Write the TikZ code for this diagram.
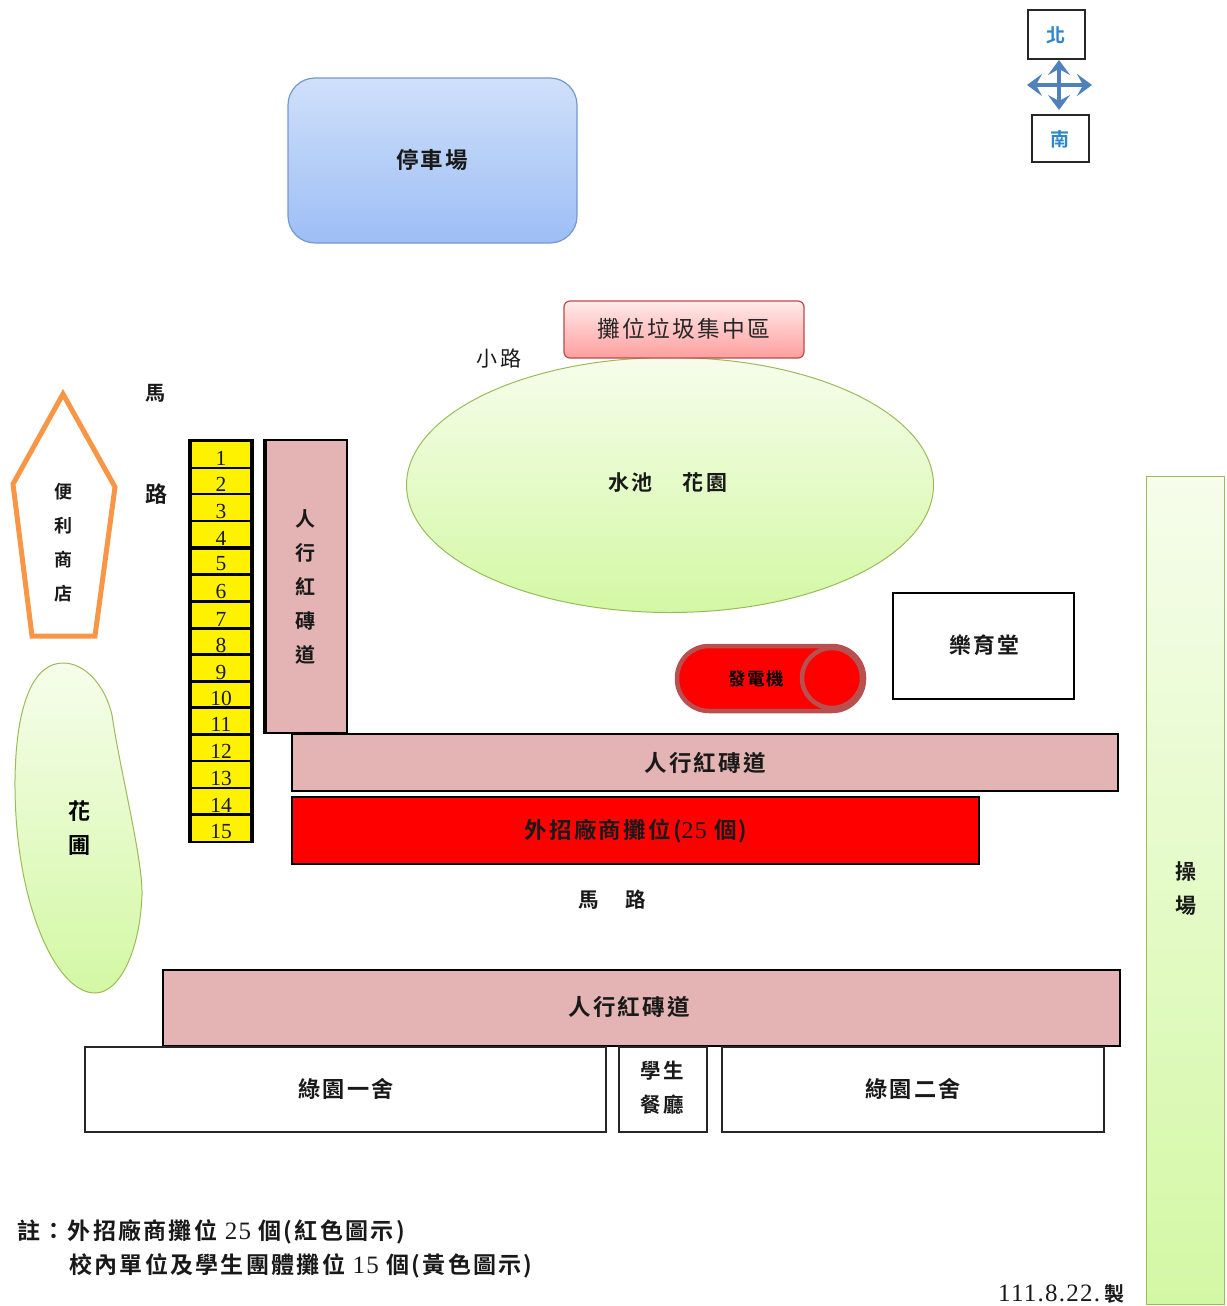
\documentclass[tikz,border=0pt]{standalone}
\usepackage{fontspec}
\setmainfont{Liberation Serif}
\newfontfamily\cjk{Noto Sans CJK TC}[BoldFont={Noto Sans CJK TC Bold},LetterSpace=10]
\newfontfamily\numf{Liberation Serif}[LetterSpace=5]
\usetikzlibrary{shapes.geometric,arrows.meta}
\definecolor{pinkbrick}{HTML}{E4B4B4}
\definecolor{greentop}{HTML}{F6FDEB}
\definecolor{greenbot}{HTML}{D3F8A4}
\definecolor{greenline}{HTML}{9BBB59}
\definecolor{bluetop}{HTML}{CFE0FA}
\definecolor{bluebot}{HTML}{9DBEF5}
\definecolor{blueline}{HTML}{7398D2}
\definecolor{compass}{HTML}{4F81BD}
\definecolor{compasstxt}{HTML}{2E86CF}
\definecolor{store}{HTML}{F79646}
\definecolor{genline}{HTML}{B85050}
\newcommand{\hfont}[1]{\cjk\bfseries\fontsize{#1pt}{24pt}\selectfont}
\newcommand{\vfont}[1]{\cjk\bfseries\fontsize{#1pt}{34pt}\selectfont}
\newcommand{\dgt}[2]{{\numf\mdseries\fontsize{#1pt}{24pt}\selectfont #2}}
\tikzset{
  lab/.style={font=\vfont{19},align=center,inner sep=0pt,text=black!90},
  note/.style={lab,font=\hfont{23},anchor=west},
  num/.style={font=\fontsize{21.5pt}{22pt}\selectfont,inner sep=0pt,text=black!90},
  brick/.style={fill=pinkbrick,draw=black,line width=2pt},
  build/.style={fill=white,draw=black!85,line width=1.8pt},
  bed/.style={top color=greentop,bottom color=greenbot,draw=greenline,line width=1pt},
  compassarrow/.style={compass,line width=3.6pt,{Stealth[length=15pt,width=22pt,inset=6pt]}-{Stealth[length=15pt,width=22pt,inset=6pt]}},
}
\begin{document}
\begin{tikzpicture}[x=1pt,y=-1pt]
\useasboundingbox (0,0) rectangle (1226,1306);
% compass
\coordinate (cn) at (1059,60); \coordinate (cs) at (1059,110);
\coordinate (cw) at (1027,85); \coordinate (ce) at (1092,85);
\draw[compassarrow] (cn) -- (cs);
\draw[compassarrow] (cw) -- (ce);
\draw[draw=black!85,line width=1.8pt,fill=white] (1028,10) rectangle (1085,59);
\node[lab,text=compasstxt] (north) at (1056,35) {北};
\draw[draw=black!85,line width=1.8pt,fill=white] (1032,115) rectangle (1089,162);
\node[lab,text=compasstxt] (south) at (1060,139) {南};
% parking
\draw[top color=bluetop,bottom color=bluebot,draw=blueline,line width=1.2pt,rounded corners=27pt] (288,78) rectangle (577,243);
\node[lab,font=\hfont{22.5}] (park) at (432,160) {停車場};
% garden ellipse
\node[ellipse,bed,minimum width=527pt,minimum height=255pt,inner sep=0pt] (pond) at (670,485) {};
\node[lab,font=\hfont{21}] (pondt) at (668,483) {水池\hspace{30pt}花園};
% garbage
\draw[top color=red!8,bottom color=red!38,draw=red!60!black!70,line width=1.2pt,rounded corners=6pt] (564,301) rectangle (804,358);
\node[font=\cjk\fontsize{22.7pt}{24pt}\selectfont,inner sep=0pt,text=black!85] (trash) at (684,329) {攤位垃圾集中區};
\node[lab,font=\cjk\fontsize{21pt}{24pt}\selectfont] (path) at (499,359) {小路};
% road left
\node[lab,font=\hfont{20}] (ma) at (155,393) {馬};
\node[lab,font=\hfont{22}] (lu) at (156,494) {路};
% store
\draw[store,line width=5pt,line join=miter] (63,394) -- (115,487) -- (95,636) -- (32,636) -- (13,484) -- cycle;
\node[lab,font=\vfont{18}] (storet) at (63,543) {便\\利\\商\\店};
% flower bed
\draw[bed] (63,663) .. controls (85,663) and (105,685) .. (112,715)
  .. controls (120,770) and (143,860) .. (142,895)
  .. controls (140,950) and (120,993) .. (95,993)
  .. controls (55,993) and (14,900) .. (15,780)
  .. controls (16,700) and (35,663) .. (63,663) -- cycle;
\node[lab,font=\vfont{22},text=black] (flower) at (79,828) {花\\圃};
% slots
\fill[black] (188,439) rectangle (254,843);
\foreach \i/\a/\b/\t in {1/442/467/458,2/469/493/484,3/495/520/511,4/522/546/538,5/550/573/564,6/576/600/591,7/603/627/619,8/630/653/645,9/656/680/672,10/683/706/698,11/709/733/724,12/736/760/751,13/762/787/778,14/789/813/805,15/816/841/831}{
  \fill[yellow] (192,\a) rectangle (250,\b);
  \node[num] (s\i) at (221,\t) {\i};
}
% bricks
\draw[brick,line width=1.6pt] (264,440) rectangle (347,733);
\draw[black,line width=3pt] (265,440) -- (265,733);
\node[lab,font=\vfont{20}] (b1) at (305,587) {人\\行\\紅\\磚\\道};
\draw[brick] (292,734) rectangle (1118,791);
\node[lab,font=\hfont{22.5}] (b2) at (705,763) {人行紅磚道};
\draw[fill=red,draw=black,line width=2pt] (292,797) rectangle (979,864);
\node[lab,font=\hfont{22.5}] (vendor) at (636,831) {外招廠商攤位(\dgt{24}{25} 個)};
\node[lab,font=\hfont{20.5}] (road) at (612,900) {馬\hspace{26pt}路};
\draw[brick] (163,970) rectangle (1120,1046);
\node[lab,font=\hfont{22.5}] (b3) at (629,1007) {人行紅磚道};
% buildings
\draw[build] (85,1047) rectangle (606,1132);
\node[lab,font=\hfont{22.2}] (d1) at (346,1089) {綠園一舍};
\draw[build] (619,1047) rectangle (707,1132);
\node[lab,font=\vfont{20.5}] (caf) at (662,1088) {學生\\餐廳};
\draw[build] (722,1047) rectangle (1104,1132);
\node[lab,font=\hfont{22.2}] (d2) at (913,1089) {綠園二舍};
% hall
\draw[fill=white,draw=black,line width=2.6pt] (893,593) rectangle (1074,699);
\node[lab,font=\hfont{21.8}] (hall) at (984,645) {樂育堂};
% generator
\draw[fill=red,draw=genline,line width=4.5pt,rounded corners=32pt] (677,646) rectangle (864,711);
\node[circle,fill=red,draw=genline,line width=4.5pt,minimum size=60pt,inner sep=0pt] (gencap) at (832,678) {};
\node[lab,font=\hfont{17.5},text=black] (gen) at (756,679) {發電機};
% field
\draw[bed] (1146,476) rectangle (1224,1304);
\node[lab,font=\vfont{21}] (field) at (1186,889) {操\\場};
% notes
\node[note] (n1) at (17,1232) {註：外招廠商攤位 \dgt{25}{25} 個(紅色圖示)};
\node[note] (n2) at (69,1266) {校內單位及學生團體攤位 \dgt{25}{15} 個(黃色圖示)};
\node[note,font=\hfont{20}] (date) at (998,1294) {\dgt{25}{111.8.22.}\hspace{4pt}製};
\end{tikzpicture}
\end{document}
